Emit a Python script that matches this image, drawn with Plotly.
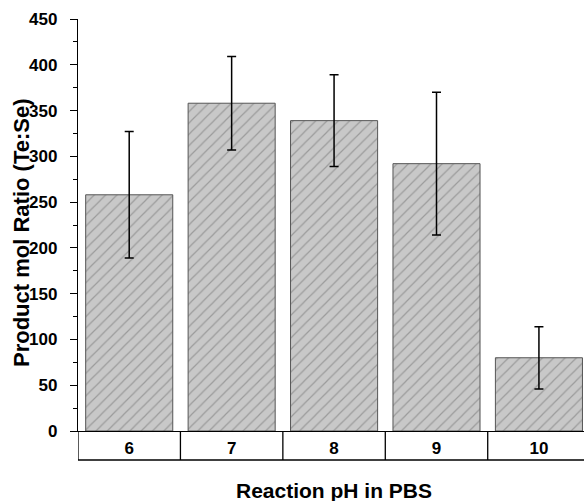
import plotly.graph_objects as go

categories = ["6", "7", "8", "9", "10"]
ratios = [258, 358, 339, 292, 80]
errors = [69, 51, 50, 78, 34]
y_ticks = [0, 50, 100, 150, 200, 250, 300, 350, 400, 450]

FONT = "Liberation Sans"

fig = go.Figure()
fig.add_trace(go.Bar(
    x=list(range(len(categories))),
    y=ratios,
    error_y=dict(type="data", array=errors, color="black", thickness=1.5, width=4.5),
    marker=dict(
        color="#c8c8c8",
        line=dict(color="#555555", width=1),
        pattern=dict(shape="/", bgcolor="#c8c8c8", fgcolor="#6e6e6e", size=8, solidity=0.15),
    ),
    width=0.85,
))

box_bottom = -0.0704
shapes = [
    dict(type="line", xref="x", yref="paper", x0=-0.5, x1=5, y0=box_bottom, y1=box_bottom,
         line=dict(color="black", width=1.3)),
    dict(type="line", xref="x", yref="paper", x0=-0.5, x1=-0.5, y0=0, y1=box_bottom,
         line=dict(color="black", width=1.3)),
]
for i in range(len(categories) - 1):
    shapes.append(dict(type="line", xref="x", yref="paper", x0=i + 0.5, x1=i + 0.5,
                       y0=0, y1=box_bottom, line=dict(color="black", width=1.3)))

annotations = [
    dict(text="<b>Reaction pH in PBS</b>", xref="paper", yref="paper",
         x=(334 - 78) / 506, y=-(490 - 431) / 412, xanchor="center", yanchor="middle",
         showarrow=False, font=dict(family=FONT, size=21, color="black")),
    dict(text="<b>Product mol Ratio (Te:Se)</b>", xref="paper", yref="paper",
         x=-(78 - 21) / 506, y=(431 - 233) / 412, xanchor="center", yanchor="middle",
         textangle=-90, showarrow=False, font=dict(family=FONT, size=22, color="black")),
]

fig.update_layout(
    width=584, height=501,
    margin=dict(l=78, r=0, t=19, b=70),
    plot_bgcolor="white", paper_bgcolor="white",
    showlegend=False,
    shapes=shapes,
    annotations=annotations,
    font=dict(family=FONT, color="black"),
    xaxis=dict(
        range=[-0.5, 4.44],
        tickmode="array", tickvals=list(range(len(categories))), ticktext=categories,
        ticks="", showgrid=False, zeroline=False,
        showline=True, linecolor="black", linewidth=1.3,
        tickfont=dict(family=FONT, size=17, color="black", weight="bold"),
        ticklabelstandoff=1,
    ),
    yaxis=dict(
        range=[0, 450],
        tickmode="array", tickvals=y_ticks,
        ticks="outside", ticklen=7, tickwidth=1.3, tickcolor="black",
        minor=dict(ticks="outside", ticklen=4, tickwidth=1.3, tickcolor="black", dtick=25),
        showgrid=False, zeroline=False,
        showline=True, linecolor="black", linewidth=1.3,
        tickfont=dict(family=FONT, size=17, color="black", weight="bold"),
        ticklabelstandoff=9,
    ),
)

fig.write_html("out.html")
